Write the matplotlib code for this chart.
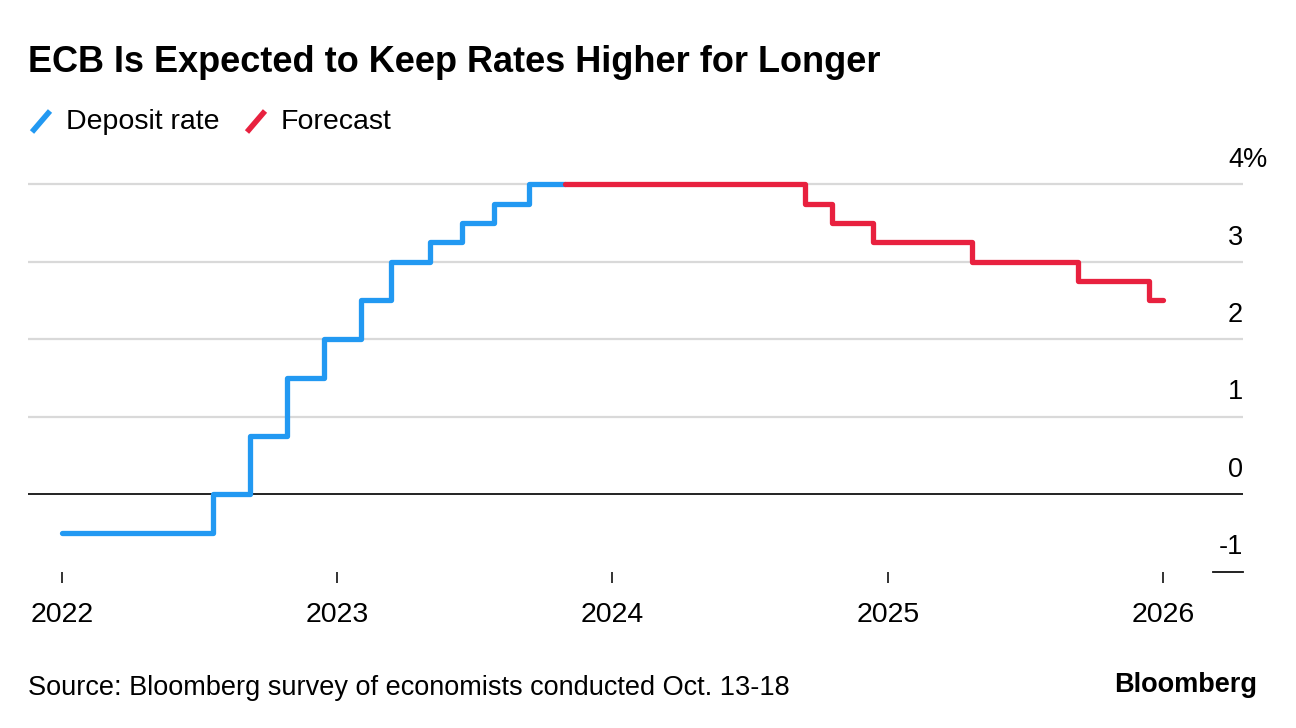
import matplotlib
matplotlib.use("Agg")
import matplotlib.pyplot as plt
import matplotlib.dates as mdates
import matplotlib.transforms as mtransforms
import pandas as pd

# --------------------------------------------------------------------
# DATA
# --------------------------------------------------------------------

# ECB deposit rate, step changes (value holds until next date)
deposit_dates = ["2022-01-01", "2022-07-21", "2022-09-07", "2022-10-27",
                 "2022-12-15", "2023-02-02", "2023-03-14", "2023-05-04",
                 "2023-06-16", "2023-07-28", "2023-09-13", "2023-10-30"]
deposit_rate = [-0.5, 0.0, 0.75, 1.5, 2.0, 2.5, 3.0, 3.25, 3.5, 3.75, 4.0, 4.0]

# Economists' forecast path
forecast_dates = ["2023-10-30", "2024-09-13", "2024-10-19", "2024-12-12",
                  "2025-04-22", "2025-09-10", "2025-12-13", "2026-01-01"]
forecast_rate = [4.0, 3.75, 3.5, 3.25, 3.0, 2.75, 2.5, 2.5]

year_ticks = ["2022", "2023", "2024", "2025", "2026"]
y_ticks = [-1, 0, 1, 2, 3, 4]
y_labels = ["-1", "0", "1", "2", "3", "4"]

BLUE = "#2299f2"
RED = "#e8213f"

# --------------------------------------------------------------------
# PLOT
# --------------------------------------------------------------------

plt.rcParams['font.family'] = ['Liberation Sans', 'DejaVu Sans']

W, H = 1296, 728
fig = plt.figure(figsize=(W / 100, H / 100), dpi=100)

# axes placed in pixel terms: x 28..1243, y(-1)=571.5, y(4.3)=161
left, right = 28, 1243
bottom_px, top_px = 571.5, 161
ax = fig.add_axes([left / W, 1 - bottom_px / H, (right - left) / W,
                   (bottom_px - top_px) / H])

d_dep = pd.to_datetime(deposit_dates)
d_fc = pd.to_datetime(forecast_dates)

x0 = mdates.date2num(pd.Timestamp("2022-01-01"))
x1 = mdates.date2num(pd.Timestamp("2026-01-01"))
ppd = (1163 - 62) / (x1 - x0)
ax.set_xlim(x0 - (62 - left) / ppd, x1 + (right - 1163) / ppd)
ax.set_ylim(-1, 4.3)

# gridlines
for v in [1, 2, 3, 4]:
    ax.axhline(v, color="#d9d9d9", lw=1.6, zorder=1)
ax.axhline(0, color="#111111", lw=1.3, zorder=2)
trans = mtransforms.blended_transform_factory(ax.transAxes, ax.transData)
ax.plot([(1213 - left) / (right - left), 1], [-1, -1], color="#111111",
        lw=1.3, transform=trans, clip_on=False)

ax.plot(d_dep, deposit_rate, drawstyle="steps-post", color=BLUE, lw=3.8,
        solid_joinstyle="round", solid_capstyle="round", zorder=3)
ax.plot(d_fc, forecast_rate, drawstyle="steps-post", color=RED, lw=3.8,
        solid_joinstyle="round", solid_capstyle="round", zorder=3)

for s in ax.spines.values():
    s.set_visible(False)
ax.set_yticks([])
ax.set_xticks(mdates.date2num(pd.to_datetime(year_ticks)))
ax.set_xticklabels(year_ticks, fontsize=20.5)
ax.tick_params(axis="x", length=8, width=1.2, color="#111111", pad=14)

# y labels above gridlines, right aligned at the right edge
for v, lab in zip(y_ticks, y_labels):
    ax.annotate(lab, xy=(1, v), xycoords=trans, xytext=(0, 8),
                textcoords="offset points", ha="right", va="bottom",
                fontsize=19.5)
ax.annotate("%", xy=(1, 4), xycoords=trans, xytext=(0, 8),
            textcoords="offset points", ha="left", va="bottom", fontsize=19.5)

# title and legend
fig.text(28 / W, 1 - 62 / H, "ECB Is Expected to Keep Rates Higher for Longer",
         fontsize=26, fontweight="bold", ha="left", va="center")
fig.lines.append(plt.Line2D([32 / W, 50 / W], [1 - 132 / H, 1 - 111 / H],
                            color=BLUE, lw=4, solid_capstyle="butt",
                            transform=fig.transFigure))
fig.text(66 / W, 1 - 122 / H, "Deposit rate", fontsize=20.5, ha="left",
         va="center")
fig.lines.append(plt.Line2D([247 / W, 265 / W], [1 - 132 / H, 1 - 111 / H],
                            color=RED, lw=4, solid_capstyle="butt",
                            transform=fig.transFigure))
fig.text(281 / W, 1 - 122 / H, "Forecast", fontsize=20.5, ha="left",
         va="center")

# footer
fig.text(28 / W, 1 - 688 / H,
         "Source: Bloomberg survey of economists conducted Oct. 13-18",
         fontsize=19.5, ha="left", va="center")
fig.text(1257 / W, 1 - 685 / H, "Bloomberg", fontsize=19.5, fontweight="bold",
         ha="right", va="center")

plt.savefig("out.png", dpi=100)
